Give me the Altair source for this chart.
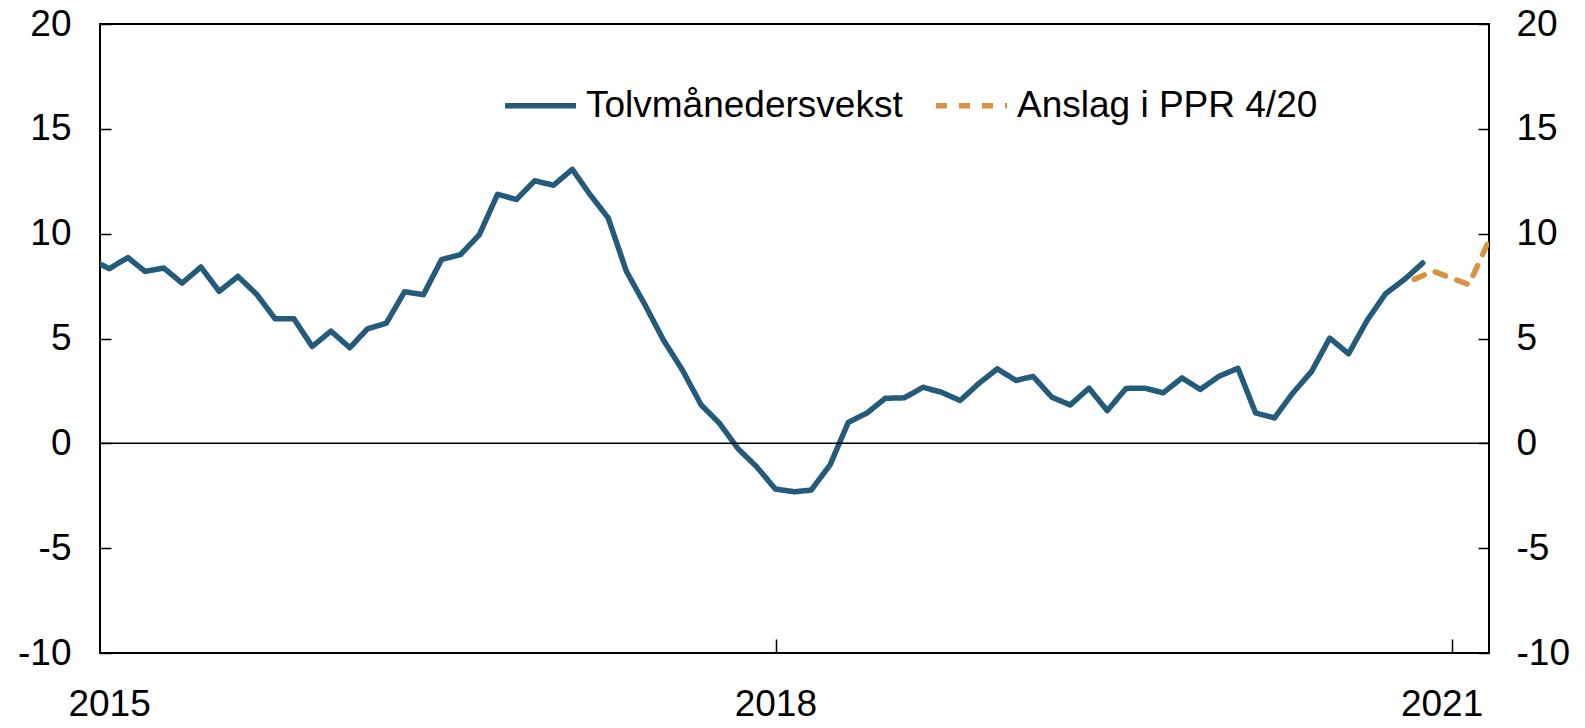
import altair as alt
import pandas as pd

BLUE_NAME = "Tolvmånedersvekst"
ORANGE_NAME = "Anslag i PPR 4/20"
BLUE = "#245B7B"
ORANGE = "#D69443"

# Monthly observations (Dec 2014 - Dec 2020), plotted mid-month
blue_months = pd.date_range("2014-12-01", "2020-12-01", freq="MS") + pd.Timedelta(days=14)
blue_values = [
    8.8,
    8.33, 8.86, 8.20, 8.36, 7.64, 8.41, 7.25, 7.96, 7.10, 5.94, 5.94, 4.62,
    5.35, 4.56, 5.46, 5.73, 7.23, 7.09, 8.77, 9.00, 9.95, 11.88, 11.63, 12.52,
    12.31, 13.07, 11.91, 10.75, 8.20, 6.58, 4.92, 3.50, 1.83, 0.96, -0.27, -1.11,
    -2.18, -2.31, -2.23, -1.03, 1.00, 1.45, 2.15, 2.17, 2.67, 2.44, 2.04, 2.84,
    3.55, 3.00, 3.19, 2.20, 1.83, 2.63, 1.56, 2.62, 2.63, 2.41, 3.12, 2.57,
    3.20, 3.58, 1.45, 1.21, 2.39, 3.42, 5.02, 4.27, 5.89, 7.14, 7.82, 8.60,
]

# Projection
orange_months = pd.to_datetime(["2020-12-01", "2021-01-01", "2021-02-01", "2021-03-01", "2021-04-01"])
orange_values = [7.82, 8.22, 7.87, 7.57, 9.55]

y_ticks = [-10, -5, 0, 5, 10, 15, 20]

df = pd.DataFrame({
    "date": list(blue_months) + list(orange_months),
    "value": blue_values + orange_values,
    "series": [BLUE_NAME] * len(blue_values) + [ORANGE_NAME] * len(orange_values),
})
zero_df = pd.DataFrame({
    "start": [pd.Timestamp("2014-12-31")],
    "end": [pd.Timestamp("2021-04-03")],
    "v": [0],
})

W, H = 1389, 629
FONT = "Liberation Sans"
FS = 37
NUM_LABEL = "'' + datum.value"

xscale = alt.Scale(domain=[alt.DateTime(year=2014, month=12, date=31),
                           alt.DateTime(year=2021, month=4, date=3)], nice=False)
yscale = alt.Scale(domain=[-10, 20], nice=False, zero=False)

x_label_vals = [alt.DateTime(year=2015, month=1, date=15),
                alt.DateTime(year=2018, month=1, date=15),
                alt.DateTime(year=2021, month=1, date=15)]
x_tick_vals = [alt.DateTime(year=2018, month=1, date=16),
               alt.DateTime(year=2021, month=2, date=1)]

legend = alt.Legend(
    title=None, orient="none", legendX=402, legendY=43, direction="horizontal",
    symbolType="stroke", symbolSize=5041, symbolStrokeWidth=5.5,
    labelFontSize=FS, labelFont=FONT, labelColor="black", labelOffset=7,
    columnPadding=22, labelLimit=0,
)

series_domain = [BLUE_NAME, ORANGE_NAME]

lines = alt.Chart(df).mark_line(strokeWidth=5.5, strokeCap="round", strokeJoin="round", clip=True).encode(
    x=alt.X("date:T", scale=xscale,
            axis=alt.Axis(orient="bottom", values=x_label_vals, format="%Y", ticks=False, tickSize=0,
                          domain=False, labelPadding=33, title=None)),
    y=alt.Y("value:Q", scale=yscale,
            axis=alt.Axis(orient="left", values=y_ticks, ticks=False, tickSize=0, domain=False,
                          labelPadding=29, labelExpr=NUM_LABEL, title=None)),
    color=alt.Color("series:N", scale=alt.Scale(domain=series_domain, range=[BLUE, ORANGE]), legend=legend),
    strokeDash=alt.StrokeDash("series:N", scale=alt.Scale(domain=series_domain, range=[[1, 0], [11, 12]]),
                              legend=legend),
)

zero_line = alt.Chart(zero_df).mark_rule(color="black", strokeWidth=1.5).encode(
    x=alt.X("start:T", scale=xscale,
            axis=alt.Axis(orient="top", offset=-H, values=x_tick_vals, labels=False, ticks=True,
                          tickSize=14, tickWidth=1.5, tickColor="black", domain=False, title=None)),
    x2="end:T",
    y=alt.Y("v:Q", scale=yscale,
            axis=alt.Axis(orient="right", values=y_ticks, ticks=False, tickSize=0, domain=False,
                          labelPadding=27, labelExpr=NUM_LABEL, title=None)),
)

left_ticks = alt.Chart(zero_df).mark_rule(strokeOpacity=0).encode(
    y=alt.Y("v:Q", scale=yscale,
            axis=alt.Axis(orient="right", offset=-W, values=y_ticks, labels=False, tickSize=11,
                          tickWidth=1.5, tickColor="black", domain=False, title=None)),
)

right_ticks = alt.Chart(zero_df).mark_rule(strokeOpacity=0).encode(
    y=alt.Y("v:Q", scale=yscale,
            axis=alt.Axis(orient="left", offset=-W, values=y_ticks, labels=False, tickSize=11,
                          tickWidth=1.5, tickColor="black", domain=False, title=None)),
)

chart = (
    alt.layer(lines, zero_line, left_ticks, right_ticks)
    .resolve_axis(x="independent", y="independent")
    .properties(width=W, height=H, autosize=alt.AutoSizeParams(type="none"),
                padding={"left": 92, "top": 16, "right": 84, "bottom": 75})
    .configure(font=FONT)
    .configure_view(stroke="black", strokeWidth=2)
    .configure_axis(grid=False, labelFontSize=FS, labelFont=FONT, labelColor="black")
)

chart.save("out.html", embed_options={"renderer": "svg", "actions": False})
